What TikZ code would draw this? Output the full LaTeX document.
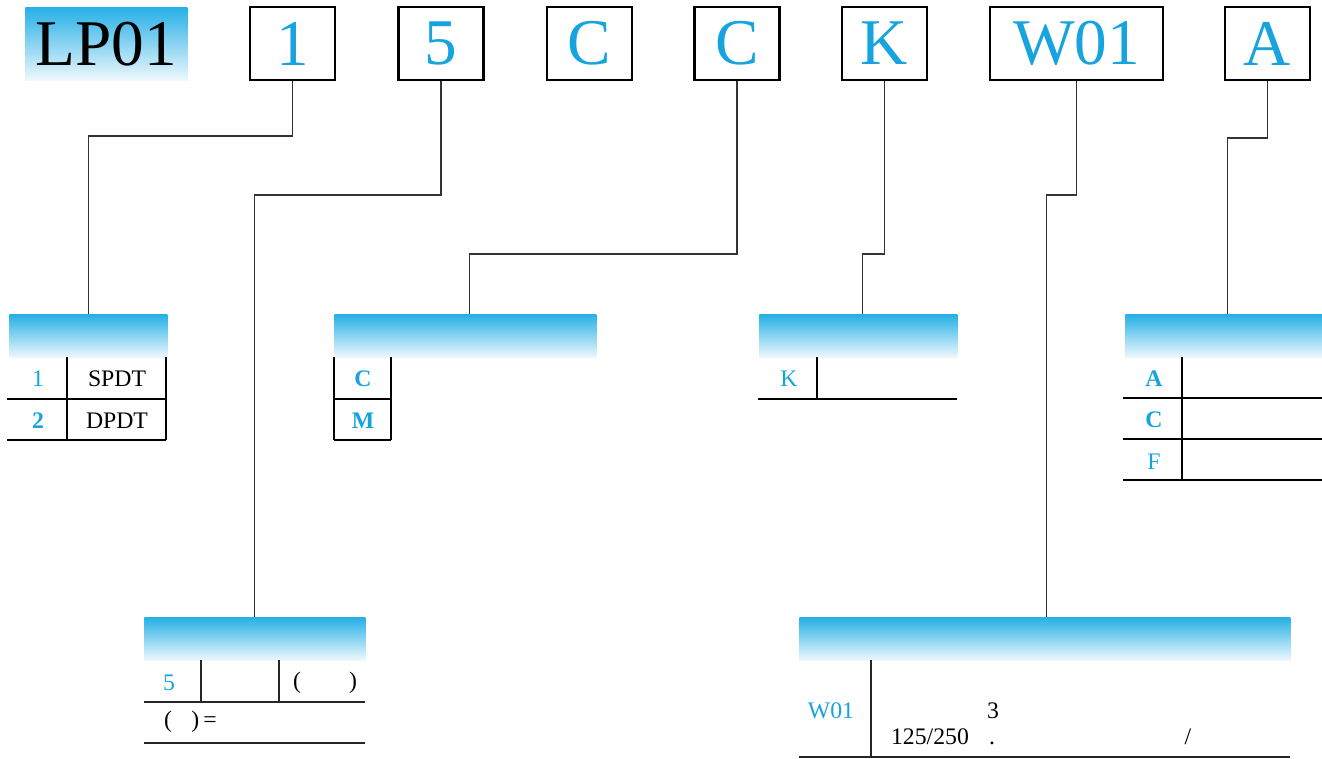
\documentclass[tikz,border=0pt]{standalone}
\usepackage{fontspec}
\usepackage{graphicx}
\setmainfont{Liberation Serif}
\usetikzlibrary{positioning}

\newcommand{\pxu}{0.02cm}
\newcommand{\bigcode}[1]{\scalebox{2.75}{\fontsize{13.5}{15}\selectfont #1}}
\definecolor{codecyan}{RGB}{22,163,222}
\definecolor{barcyan}{RGB}{38,176,230}
\definecolor{barpale}{RGB}{238,248,253}

\tikzset{
  codebox/.style={draw, line width=1.4pt, inner sep=0pt, minimum width=85*\pxu, minimum height=73*\pxu, text=codecyan},
  bar/.style={top color=barcyan, bottom color=barpale, inner sep=0pt, minimum height=43*\pxu, anchor=north west},
  link/.style={line width=0.7pt, draw=black!80},
  rule/.style={line width=1.4pt},
  thinrule/.style={line width=0.9pt, draw=black!85},
  key/.style={text=codecyan, font=\fontsize{13.5}{15}\selectfont},
  txt/.style={font=\fontsize{13.5}{15}\selectfont},
}

\begin{document}
\begin{tikzpicture}[x=0.02cm, y=-0.02cm]
\useasboundingbox (0,0) rectangle (1322,759);

% code boxes
\node[bar, minimum width=162*\pxu, minimum height=73*\pxu] (lp) at (25,7) {};
\node at (lp.center) {\bigcode{LP01}};
\node[codebox] (b1) at (292.5,43.5) {\bigcode{1}};
\node[codebox] (b5) at (441,43.5) {\bigcode{5}};
\node[codebox] (bc) at (589.5,43.5) {\bigcode{C}};
\node[codebox] (bm) at (737,43.5) {\bigcode{C}};
\node[codebox] (bk) at (884.5,43.5) {\bigcode{K}};
\node[codebox, minimum width=173*\pxu] (bw) at (1076.5,43.5) {\bigcode{W01}};
\node[codebox] (ba) at (1267.5,43.5) {\bigcode{A}};

% headers
\node[bar, minimum width=158*\pxu] (h1) at (9,314) {};
\node[bar, minimum width=262*\pxu] (hm) at (334,314) {};
\node[bar, minimum width=198*\pxu] (hk) at (759,314) {};
\node[bar, minimum width=197*\pxu] (ha) at (1125,314) {};
\node[bar, minimum width=221*\pxu] (h5) at (144,617) {};
\node[bar, minimum width=491*\pxu] (hw) at (799,617) {};

% links
\draw[link] (b1.south) -- (b1.south |- 0,136) -| (h1.north);
\draw[link] (b5.south) -- (b5.south |- 0,195) -| (h5.north);
\draw[link] (bm.south) -- (bm.south |- 0,254) -| ([xshift=4*\pxu]hm.north);
\draw[link] (bk.south) -- (bk.south |- 0,254) -| ([xshift=4*\pxu]hk.north);
\draw[link] (bw.south) -- (bw.south |- 0,195) -| ([xshift=1.5*\pxu]hw.north);
\draw[link] (ba.south) -- (ba.south |- 0,138) -| ([xshift=3.5*\pxu]ha.north);

% poles
\draw[rule] (67,357) -- (67,440);
\draw[rule] (166,357) -- (166,440);
\draw[rule] (7,399) -- (166,399);
\draw[rule] (7,440) -- (166,440);
\node[key] at (38,379) {1};
\node[txt] at (117,379) {SPDT};
\node[key] at (38,421) {\bfseries 2};
\node[txt] at (117,421) {DPDT};

% mounting
\draw[rule] (334,357) -- (334,440);
\draw[rule] (391,357) -- (391,440);
\draw[rule] (334,399) -- (391,399);
\draw[rule] (334,440) -- (391,440);
\node[key] at (363,379) {\bfseries C};
\node[key] at (363,421) {\bfseries M};

% K
\draw[rule] (817,357) -- (817,399);
\draw[rule] (758,399) -- (957,399);
\node[key] at (789,379) {K};

% A
\draw[rule] (1182,357) -- (1182,480);
\foreach \yy in {398, 439, 480} {
  \draw[rule] (1123,\yy) -- (1322,\yy);
}
\node[key] at (1154,379) {\bfseries A};
\node[key] at (1154,420) {\bfseries C};
\node[key] at (1154,462) {F};

% 5
\draw[thinrule] (201,660) -- (201,702);
\draw[thinrule] (279,660) -- (279,702);
\draw[thinrule] (144,702) -- (365,702);
\draw[thinrule] (144,743) -- (365,743);
\node[key] at (169,683) {5};
\node[txt] at (297,683) {(};
\node[txt] at (353,683) {)};
\node[txt, anchor=west] at (158,722) {(\hspace{11pt})\,=};

% W01
\draw[thinrule] (871,660) -- (871,757);
\draw[thinrule] (799,757) -- (1290,757);
\node[key] at (831,711) {W01};
\node[txt] at (993,711) {3};
\node[txt, anchor=base] at (930,745) {125/250};
\node[txt, anchor=base] at (992,745) {.};
\node[txt, anchor=base] at (1188,745) {/};

\end{tikzpicture}
\end{document}
